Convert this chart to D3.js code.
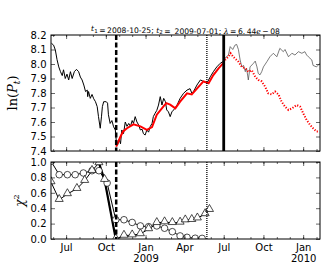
<!DOCTYPE html>
<html>
<head>
<meta charset="utf-8">
<script src="https://cdn.jsdelivr.net/npm/d3@7"></script>
<style>
body { margin: 0; background: #fff; }
svg { display: block; font-family: "DejaVu Sans", sans-serif; }
</style>
</head>
<body>
<svg id="chart" width="332" height="277"></svg>
<script>
// log price (black)
var priceDates = ['2008-05-28','2008-06-02','2008-06-06','2008-06-10','2008-06-14','2008-06-18','2008-06-22','2008-06-25','2008-06-29','2008-07-03',
    '2008-07-07','2008-07-11','2008-07-15','2008-07-20','2008-07-25','2008-07-30','2008-08-03','2008-08-07','2008-08-11','2008-08-15',
    '2008-08-19','2008-08-20','2008-08-22','2008-08-26','2008-08-30','2008-09-03','2008-09-07','2008-09-11','2008-09-14','2008-09-18',
    '2008-09-21','2008-09-23','2008-09-26','2008-10-02','2008-10-05','2008-10-07','2008-10-11','2008-10-15','2008-10-19','2008-10-23',
    '2008-10-25','2008-10-28','2008-11-01','2008-11-04','2008-11-07','2008-11-11','2008-11-15','2008-11-19','2008-11-23','2008-11-27',
    '2008-12-01','2008-12-04','2008-12-08','2008-12-12','2008-12-16','2008-12-20','2008-12-24','2008-12-27','2008-12-31','2009-01-04',
    '2009-01-08','2009-01-12','2009-01-16','2009-01-19','2009-01-23','2009-01-27','2009-01-31','2009-02-04','2009-02-08','2009-02-12',
    '2009-02-16','2009-02-19','2009-02-23','2009-02-27','2009-03-03','2009-03-07','2009-03-15','2009-03-22','2009-03-30','2009-04-07',
    '2009-04-14','2009-04-18','2009-04-22','2009-04-30','2009-05-08','2009-05-15','2009-05-23','2009-05-31','2009-06-07','2009-06-15',
    '2009-06-23','2009-07-01','2009-07-04','2009-07-12','2009-07-16','2009-07-22','2009-07-27','2009-07-31','2009-08-04','2009-08-08',
    '2009-08-12','2009-08-16','2009-08-20','2009-08-23','2009-08-27','2009-08-31','2009-09-08','2009-09-12','2009-09-16','2009-09-19',
    '2009-09-23','2009-09-27','2009-10-01','2009-10-09','2009-10-16','2009-10-24','2009-11-01','2009-11-08','2009-11-16','2009-11-20',
    '2009-11-28','2009-12-06','2009-12-13','2009-12-21','2009-12-29','2010-01-05','2010-01-09','2010-01-13','2010-01-21','2010-01-24',
    '2010-02-01','2010-02-09'];
var priceVals = [8.143,8.13,8.097,8.03,7.98,7.947,7.92,7.96,7.90,7.93,
    7.89,7.947,7.90,7.947,7.963,7.947,7.91,7.89,7.855,7.81,
    7.82,7.775,7.81,7.763,7.79,7.76,7.74,7.706,7.637,7.557,
    7.64,7.706,7.74,7.74,7.73,7.65,7.59,7.61,7.567,7.545,
    7.476,7.44,7.48,7.45,7.545,7.52,7.60,7.57,7.59,7.57,
    7.61,7.59,7.637,7.60,7.58,7.545,7.55,7.52,7.51,7.545,
    7.53,7.57,7.59,7.637,7.66,7.68,7.717,7.775,7.717,7.763,
    7.74,7.683,7.67,7.637,7.67,7.683,7.717,7.763,7.798,7.82,
    7.83,7.80,7.81,7.855,7.89,7.88,7.867,7.912,7.947,7.98,
    8.005,8.02,8.04,8.062,8.12,8.10,8.13,8.135,8.10,8.028,
    7.98,7.99,7.947,7.97,7.89,7.98,8.005,8.02,7.98,7.935,
    7.925,7.947,7.98,8.016,8.05,8.074,8.05,8.108,8.085,8.10,
    8.05,8.074,8.062,8.085,8.074,8.085,8.062,8.05,8.028,7.99,
    7.98,8.005];

// fitted curve t1..t2 (solid red) and its extrapolation (dotted red)
var fitDates = ['2008-10-25','2008-11-04','2008-11-10','2008-11-19','2008-12-04','2008-12-20','2009-01-04','2009-01-16','2009-01-27','2009-02-12',
    '2009-02-18','2009-02-27','2009-03-11','2009-03-22','2009-04-07','2009-04-18','2009-04-30','2009-05-15','2009-05-27','2009-06-07',
    '2009-06-19','2009-07-01'];
var fitVals = [7.43,7.50,7.535,7.557,7.584,7.57,7.545,7.565,7.65,7.71,
    7.73,7.72,7.694,7.74,7.798,7.79,7.83,7.88,7.867,7.924,
    7.97,8.01];
var fcDates = ['2009-07-01','2009-07-04','2009-07-12','2009-07-17','2009-07-23','2009-08-04','2009-08-12','2009-08-20','2009-08-27','2009-09-04',
    '2009-09-12','2009-09-19','2009-09-27','2009-10-05','2009-10-12','2009-10-20','2009-10-28','2009-11-05','2009-11-12','2009-11-20',
    '2009-11-28','2009-12-06','2009-12-17','2009-12-25','2010-01-01','2010-01-09','2010-01-17','2010-01-24','2010-02-01','2010-02-07'];
var fcVals = [8.01,8.028,8.05,8.074,8.05,8.016,7.98,7.97,7.947,7.957,
    7.912,7.89,7.88,7.843,7.798,7.79,7.81,7.79,7.74,7.706,
    7.683,7.694,7.717,7.706,7.66,7.614,7.58,7.557,7.534,7.534];

// chi^2 scans over t1
var circDates = ['2008-05-27','2008-06-15','2008-07-04','2008-07-22','2008-08-10','2008-08-30','2008-09-15','2008-10-04','2008-10-24','2008-11-12',
    '2008-12-01','2008-12-20','2009-01-08','2009-01-27','2009-02-14','2009-03-04','2009-03-22','2009-04-07','2009-04-26','2009-05-12'];
var circVals = [1.01,0.835,0.835,0.835,0.857,0.887,0.887,0.727,0.25,0.25,
    0.215,0.17,0.16,0.17,0.14,0.095,0.04,0.022,0.01,0.008];
var triDates = ['2008-05-27','2008-06-15','2008-07-04','2008-07-26','2008-08-13','2008-08-30','2008-09-15','2008-09-28','2008-10-24','2008-11-12',
    '2008-12-01','2008-12-20','2009-01-08','2009-01-27','2009-02-14','2009-03-04','2009-03-22','2009-04-03','2009-04-18','2009-05-01',
    '2009-05-19','2009-05-29'];
var triVals = [0.74,0.51,0.585,0.653,0.757,0.887,0.987,0.77,0.0,0.045,
    0.05,0.065,0.13,0.21,0.22,0.21,0.215,0.245,0.25,0.27,
    0.325,0.38];

var t1 = '2008-10-25', t2 = '2009-07-01', tEnd = '2009-05-23';
var priceTicks = [7.4,7.5,7.6,7.7,7.8,7.9,8.0,8.1,8.2];
var chiTicks = [0.0,0.2,0.4,0.6,0.8,1.0];

var parse = d3.timeParse('%Y-%m-%d');
var svg = d3.select('#chart');

var left = 51, right = 320;
var topY0 = 35, topY1 = 151, botY0 = 162, botY1 = 239;

var x = d3.scaleTime()
    .domain([parse('2008-05-27'), parse('2010-02-09')])
    .range([left, right]);
var yP = d3.scaleLinear().domain([7.4, 8.2]).range([topY1, topY0]);
var yC = d3.scaleLinear().domain([0, 1]).range([botY1, botY0]);

var zip = function(ds, vs) {
    return ds.map(function(d, i) { return {date: parse(d), v: vs[i]}; });
};
var price = zip(priceDates, priceVals),
    fit = zip(fitDates, fitVals),
    fc = zip(fcDates, fcVals),
    circ = zip(circDates, circVals),
    tri = zip(triDates, triVals);

// clip paths for the two panels
var defs = svg.append('defs');
defs.append('clipPath').attr('id', 'clipTop').append('rect')
    .attr('x', left).attr('y', topY0).attr('width', right - left).attr('height', topY1 - topY0);
defs.append('clipPath').attr('id', 'clipBot').append('rect')
    .attr('x', left).attr('y', botY0).attr('width', right - left).attr('height', botY1 - botY0);

var lineP = d3.line().x(function(d) { return x(d.date); }).y(function(d) { return yP(d.v); });
var lineC = d3.line().x(function(d) { return x(d.date); }).y(function(d) { return yC(d.v); });

// ---- top panel ----
var gTop = svg.append('g').attr('clip-path', 'url(#clipTop)');
var T2 = parse(t2);

gTop.append('path').datum(price.filter(function(d) { return d.date >= T2; }))
    .attr('d', lineP).attr('fill', 'none').attr('stroke', '#444').attr('stroke-width', 0.7);
gTop.append('path').datum(price.filter(function(d) { return d.date <= T2; }))
    .attr('d', lineP).attr('fill', 'none').attr('stroke', '#000').attr('stroke-width', 1);
gTop.append('path').datum(fit)
    .attr('d', lineP).attr('fill', 'none').attr('stroke', '#f00').attr('stroke-width', 2);
gTop.append('path').datum(fc)
    .attr('d', lineP).attr('fill', 'none').attr('stroke', '#f00').attr('stroke-width', 2)
    .attr('stroke-dasharray', '1.2,1.6');

// vertical markers
var vline = function(g, date, y0, y1, w, dash) {
    g.append('line')
        .attr('x1', x(parse(date))).attr('x2', x(parse(date)))
        .attr('y1', y0).attr('y2', y1)
        .attr('stroke', '#000').attr('stroke-width', w)
        .attr('stroke-dasharray', dash);
};
vline(svg, t1, topY0, topY1, 2.5, '5,2.5');
vline(svg, tEnd, topY0, topY1, 1.3, '1,1');
vline(svg, t2, topY0, topY1, 2.8, null);

// ---- bottom panel ----
var gBot = svg.append('g').attr('clip-path', 'url(#clipBot)');
vline(svg, t1, botY0, botY1, 2.5, '5,2.5');
vline(svg, tEnd, botY0, botY1, 1.3, '1,1');

gBot.append('path').datum(circ)
    .attr('d', lineC).attr('fill', 'none').attr('stroke', '#000').attr('stroke-width', 1);
gBot.append('path').datum(tri)
    .attr('d', lineC).attr('fill', 'none').attr('stroke', '#000').attr('stroke-width', 1);
// the steep fall around t1 looks heavier in the original
gBot.append('path').datum(tri.filter(function(d) { return d.date >= parse('2008-09-15') && d.date <= parse('2008-10-24'); }))
    .attr('d', lineC).attr('fill', 'none').attr('stroke', '#000').attr('stroke-width', 2.2);

gBot.selectAll('.circ').data(circ).enter()
    .append('circle').classed('circ', true)
    .attr('cx', function(d) { return x(d.date); })
    .attr('cy', function(d) { return yC(d.v); })
    .attr('r', 3.3)
    .attr('fill', '#fff').attr('stroke', '#000').attr('stroke-width', 0.7);

var triSym = d3.symbol().type(d3.symbolTriangle).size(28);
gBot.selectAll('.tri').data(tri).enter()
    .append('path').classed('tri', true)
    .attr('transform', function(d) { return 'translate(' + x(d.date) + ',' + (yC(d.v) - 0.6) + ')'; })
    .attr('d', triSym)
    .attr('fill', '#fff').attr('stroke', '#000').attr('stroke-width', 0.7);

// ---- axes ----
var major = d3.timeMonth.every(3), minor = d3.timeMonth.every(1);
var styleAxis = function(g) {
    g.select('.domain').remove();
    g.selectAll('line').attr('stroke', '#000').attr('stroke-width', 0.6);
    g.selectAll('text').attr('fill', '#000').style('font-size', '10px')
        .style('font-weight', 'normal')
        .style('font-family', '"DejaVu Sans", sans-serif');
};

var panels = [[topY0, topY1, yP, priceTicks, d3.format('.1f')], [botY0, botY1, yC, chiTicks, d3.format('.1f')]];
panels.forEach(function(p, k) {
    var y0 = p[0], y1 = p[1], ys = p[2];
    // x ticks, bottom and top, pointing inward
    [[y1, d3.axisBottom], [y0, d3.axisTop]].forEach(function(s) {
        svg.append('g').attr('transform', 'translate(0,' + s[0] + ')')
            .call(s[1](x).ticks(minor).tickSize(-2).tickFormat(''))
            .call(styleAxis);
        svg.append('g').attr('transform', 'translate(0,' + s[0] + ')')
            .call(s[1](x).ticks(major).tickSize(-4).tickFormat(''))
            .call(styleAxis);
    });
    // y ticks, left (labelled) and right
    svg.append('g').attr('transform', 'translate(' + left + ',0)')
        .call(d3.axisLeft(ys).tickValues(p[3]).tickSize(-4).tickPadding(4.5).tickFormat(p[4]))
        .call(styleAxis);
    svg.append('g').attr('transform', 'translate(' + right + ',0)')
        .call(d3.axisRight(ys).tickValues(p[3]).tickSize(-4).tickFormat(''))
        .call(styleAxis);
    // frame
    svg.append('rect').attr('x', left).attr('y', y0)
        .attr('width', right - left).attr('height', y1 - y0)
        .attr('fill', 'none').attr('stroke', '#000').attr('stroke-width', 1);
});

// month labels under the lower panel
var xLab = svg.append('g').attr('transform', 'translate(0,' + botY1 + ')')
    .call(d3.axisBottom(x).ticks(major).tickSize(0).tickPadding(5).tickFormat(d3.timeFormat('%b')))
    .call(styleAxis);
xLab.selectAll('.tick text').attr('dy', '7px').each(function(d) {
    if (d.getMonth() === 0) {
        d3.select(this).append('tspan')
            .attr('x', 0).attr('dy', '11px').text(d.getFullYear());
    }
});

// title
var title = svg.append('text')
    .attr('x', (left + right) / 2).attr('y', 31)
    .attr('text-anchor', 'middle')
    .style('font-size', '7.6px');
var italic = function(s) {
    title.append('tspan').style('font-style', 'italic').style('font-family', '"DejaVu Serif", serif').text(s);
};
var plain = function(s) { title.append('tspan').text(s); };
var sub = function(s) {
    title.append('tspan').attr('dy', 1.5).style('font-size', '5.5px').text(s);
    title.append('tspan').attr('dy', -1.5).text('');
};
italic('t'); sub('1'); plain('\u2009=\u20092008-10-25; ');
italic('t'); sub('2'); plain('\u2009=\u2009 2009-07-01; ');
italic('\u03bb'); plain('\u2009=\u20096.\u200944'); italic('e'); plain('\u2009\u2212\u200908');

// y labels
var yl = svg.append('text')
    .attr('transform', 'translate(17,' + ((topY0 + topY1) / 2) + ') rotate(-90)')
    .attr('text-anchor', 'middle')
    .style('font-family', '"DejaVu Serif", serif').style('font-size', '13px');
yl.append('tspan').text('ln(');
yl.append('tspan').style('font-style', 'italic').text('P');
yl.append('tspan').attr('dy', 3).style('font-size', '9px').style('font-style', 'italic').text('t');
yl.append('tspan').attr('dy', -3).text(')');

var cl = svg.append('text')
    .attr('transform', 'translate(24,' + ((botY0 + botY1) / 2) + ') rotate(-90)')
    .attr('text-anchor', 'middle')
    .style('font-family', '"DejaVu Serif", serif').style('font-size', '12px');
cl.append('tspan').style('font-style', 'italic').text('\u03c7');
cl.append('tspan').attr('dy', -5).style('font-size', '8px').text('2');
</script>
</body>
</html>
